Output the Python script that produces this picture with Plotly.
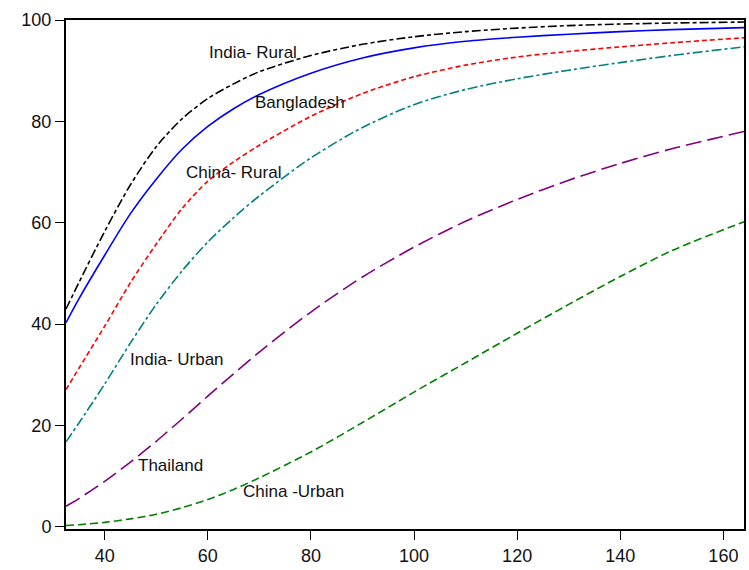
import plotly.graph_objects as go

# ---- data ----
x_grid = [32.5, 35, 40, 45, 50, 55, 60, 65, 70, 80, 90, 100, 110, 120, 130, 140, 150, 164]

india_rural_y = [43.0, 48.2, 58.3, 67.5, 75.0, 80.5, 84.5, 87.4, 89.8, 93.0, 95.2, 96.7, 97.7, 98.4, 98.9, 99.2, 99.4, 99.6]
bangladesh_y  = [40.3, 45.0, 53.6, 61.8, 68.6, 74.5, 79.0, 82.5, 85.3, 89.5, 92.5, 94.5, 95.8, 96.6, 97.2, 97.7, 98.1, 98.5]
china_rural_y = [27.1, 31.3, 39.6, 48.2, 55.8, 62.8, 68.2, 72.0, 75.3, 81.0, 85.5, 88.8, 91.1, 92.7, 93.8, 94.7, 95.5, 96.5]
india_urban_y = [16.8, 20.5, 28.2, 36.3, 43.9, 50.5, 56.2, 61.0, 65.3, 72.8, 78.8, 83.3, 86.3, 88.4, 90.1, 91.6, 93.0, 94.7]
thailand_y    = [4.1, 5.6, 9.0, 12.8, 16.9, 21.3, 25.8, 30.2, 34.5, 42.4, 49.3, 55.2, 60.3, 64.6, 68.4, 71.7, 74.6, 78.0]
china_urban_y = [0.3, 0.45, 0.9, 1.6, 2.5, 3.8, 5.4, 7.4, 9.7, 14.8, 20.6, 26.6, 32.4, 38.2, 43.9, 49.4, 54.5, 60.2]

label_text = ["India- Rural", "Bangladesh", "China- Rural", "India- Urban", "Thailand", "China -Urban"]
label_x = [68.8, 77.8, 64.9, 54.1, 52.7, 76.6]
label_y = [93.5, 83.8, 70, 33, 12.1, 6.9]

x_ticks = [40, 60, 80, 100, 120, 140, 160]
y_ticks = [0, 20, 40, 60, 80, 100]

series = [
    (india_rural_y, "#000000", "9px,3px,4px,3px"),
    (bangladesh_y, "#0000FF", "solid"),
    (china_rural_y, "#FF0000", "5px,3px"),
    (india_urban_y, "#008080", "10px,3px,3px,3px"),
    (thailand_y, "#800080", "16px,6px"),
    (china_urban_y, "#008000", "8px,4px"),
]

fig = go.Figure()
for ys, col, dash in series:
    fig.add_trace(go.Scatter(
        x=x_grid, y=ys, mode="lines",
        line=dict(color=col, width=1.6, dash=dash, shape="spline", smoothing=0.8),
        showlegend=False, hoverinfo="skip"))

for t, lx, ly in zip(label_text, label_x, label_y):
    fig.add_annotation(x=lx, y=ly, text=t, showarrow=False,
                       font=dict(family="Liberation Sans, Arial, sans-serif", size=17, color="#111"),
                       xanchor="center", yanchor="middle")

axis_common = dict(
    showline=True, linecolor="black", linewidth=2, mirror=True,
    ticks="outside", ticklen=9, tickwidth=1.2, tickcolor="black",
    showgrid=False, zeroline=False,
    tickfont=dict(family="Liberation Sans, Arial, sans-serif", size=18, color="#111"),
)

fig.update_xaxes(range=[32.5, 164.0], tickvals=x_ticks, **axis_common)
fig.update_yaxes(range=[-0.4, 100], tickvals=y_ticks, **axis_common)

fig.update_layout(
    width=749, height=570,
    margin=dict(l=66, r=3, t=20, b=41),
    paper_bgcolor="white", plot_bgcolor="white",
)

fig.write_html("out.html")
